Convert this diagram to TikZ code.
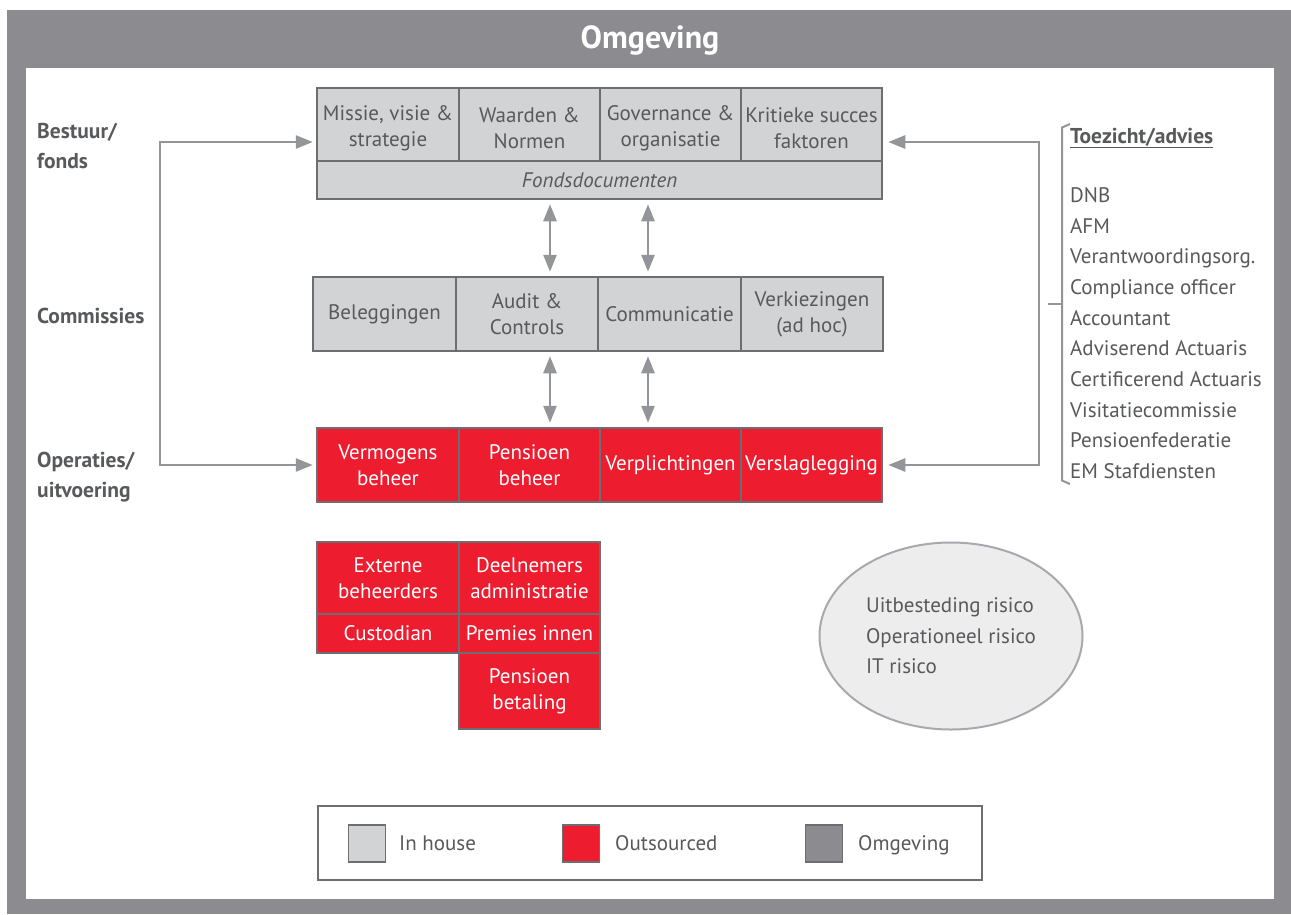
\documentclass[tikz,border=0pt]{standalone}
\usepackage{fontspec}
\setmainfont{PT Sans}
\usetikzlibrary{arrows.meta,shapes.geometric}
\definecolor{framegray}{RGB}{140,139,144}
\definecolor{inhouse}{RGB}{210,211,213}
\definecolor{outred}{RGB}{237,28,46}
\definecolor{edgegray}{RGB}{109,110,113}
\definecolor{txtgray}{RGB}{88,89,91}
\definecolor{conngray}{RGB}{147,149,152}
\definecolor{ellfill}{RGB}{237,237,238}
\definecolor{elledge}{RGB}{167,169,172}
\newcommand\lowertxt{\rule{0pt}{23pt}}
\begin{document}
\begin{tikzpicture}[x=1pt,y=-1pt,
  boxfont/.style={font=\fontsize{21}{26}\selectfont},
  cell/.style={boxfont, draw=edgegray, line width=2.5pt, inner sep=0pt, align=center, text=txtgray, fill=inhouse},
  redcell/.style={cell, fill=outred, text=white},
  lbl/.style={font=\fontsize{21.5}{30}\selectfont\bfseries, text=txtgray, align=left, anchor=west, inner sep=0pt},
  listtxt/.style={font=\fontsize{21}{30.67}\selectfont, text=txtgray, align=left, anchor=west, inner sep=0pt},
  conn/.style={draw=conngray, line width=2.6pt, {Triangle[length=17pt,width=13pt]}-{Triangle[length=17pt,width=13pt]}},
  legsq/.style={draw=edgegray, line width=1.5pt, minimum width=37pt, minimum height=37pt, inner sep=0pt},
  legtxt/.style={font=\fontsize{21}{24}\selectfont, text=txtgray, anchor=base west, inner sep=0pt}]
\useasboundingbox (0,0) rectangle (1291,914);
\fill[white] (0,0) rectangle (1291,914);
% frame
\fill[framegray] (7,10) rectangle (1291,914);
\fill[white] (26,68) rectangle (1274,899);
\node[font=\fontsize{32}{36}\selectfont\bfseries, text=white] (title) at (650,40) {Omgeving};

% Bestuur / fonds
\node[cell, minimum width=142pt, minimum height=73pt] (m1) at (388,124.5) {\lowertxt Missie, visie \&\\strategie};
\node[cell, minimum width=141pt, minimum height=73pt] (m2) at (529.5,124.5) {\lowertxt Waarden \&\\Normen};
\node[cell, minimum width=141pt, minimum height=73pt] (m3) at (670.5,124.5) {\lowertxt Governance \&\\organisatie};
\node[cell, minimum width=141pt, minimum height=73pt] (m4) at (811.5,124.5) {\lowertxt Kritieke succes\\faktoren};
\node[cell, minimum width=565pt, minimum height=38pt, font=\fontsize{21}{26}\selectfont\itshape] (fonds) at (599.5,180) {Fondsdocumenten};

% Commissies
\node[cell, minimum width=143pt, minimum height=74pt] (c1) at (384.5,314) {Beleggingen};
\node[cell, minimum width=142pt, minimum height=74pt] (c2) at (527,314) {Audit \&\\Controls};
\node[cell, minimum width=143pt, minimum height=74pt] (c3) at (669.5,314) {Communicatie};
\node[cell, minimum width=142pt, minimum height=74pt] (c4) at (812,314) {Verkiezingen\\(ad hoc)};

% Operaties
\node[redcell, minimum width=142pt, minimum height=74pt] (o1) at (388,465) {Vermogens\\beheer};
\node[redcell, minimum width=141pt, minimum height=74pt] (o2) at (529.5,465) {Pensioen\\beheer};
\node[redcell, minimum width=141pt, minimum height=74pt] (o3) at (670.5,465) {Verplichtingen};
\node[redcell, minimum width=141pt, minimum height=74pt] (o4) at (811.5,465) {Verslaglegging};

% sub boxes
\node[redcell, minimum width=142pt, minimum height=72pt] (s1) at (388,578) {Externe\\beheerders};
\node[redcell, minimum width=142pt, minimum height=39pt] (s2) at (388,633.5) {Custodian};
\node[redcell, minimum width=141pt, minimum height=72pt] (s3) at (529.5,578) {Deelnemers\\administratie};
\node[redcell, minimum width=141pt, minimum height=39pt] (s4) at (529.5,633.5) {Premies innen};
\node[redcell, minimum width=141pt, minimum height=76pt] (s5) at (529.5,691) {Pensioen\\betaling};

% row labels
\node[lbl] (lb1) at (37,146) {Bestuur/\\fonds};
\node[lbl] (lb2) at (37,316) {Commissies};
\node[lbl] (lb3) at (37,477) {Operaties/\\uitvoering};

% vertical double arrows
\coordinate (va) at (550,0);
\coordinate (vb) at (648,0);
\draw[conn, shorten <=4pt, shorten >=4pt] (va |- fonds.south) -- (va |- c2.north);
\draw[conn, shorten <=4pt, shorten >=4pt] (vb |- fonds.south) -- (vb |- c3.north);
\draw[conn, shorten <=4pt, shorten >=4pt] (va |- c2.south) -- (va |- o2.north);
\draw[conn, shorten <=4pt, shorten >=4pt] (vb |- c3.south) -- (vb |- o3.north);

% left connector
\coordinate (lt) at (160,142);
\coordinate (lbm) at (160,465);
\draw[conn, shorten <=3pt, shorten >=3pt] (lt -| m1.west) -- (lt) -- (lbm) -- (lbm -| o1.west);

% right connector
\coordinate (rt) at (1039,142);
\coordinate (rb) at (1039,465);
\draw[conn, shorten <=5pt, shorten >=5pt] (rt -| m4.east) -- (rt) -- (rb) -- (rb -| o4.east);

% bracket
\draw[conngray, line width=2pt] (1070,124) -- (1062,127.5) -- (1062,480.5) -- (1070,484);
\draw[conngray, line width=2pt] (1048,304) -- (1062,304);

% Toezicht list
\node[font=\fontsize{21.5}{24}\selectfont\bfseries, text=txtgray, anchor=west, inner sep=0pt] (tz) at (1070,138) {\underline{Toezicht/advies}};
\node[listtxt] (list) at (1070,333) {DNB\\AFM\\Verantwoordingsorg.\\Compliance officer\\Accountant\\Adviserend Actuaris\\Certificerend Actuaris\\Visitatiecommissie\\Pensioenfederatie\\EM Stafdiensten};

% ellipse
\node[ellipse, draw=elledge, line width=2pt, fill=ellfill, minimum width=263pt, minimum height=187pt, inner sep=0pt, align=left, text=txtgray, font=\fontsize{21}{30.5}\selectfont] (risk) at (951,636) {Uitbesteding risico\\Operationeel risico\\IT risico};

% legend
\node[draw=edgegray, line width=2.5pt, minimum width=664pt, minimum height=74pt, inner sep=0pt] (legend) at (650,843) {};
\node[legsq, fill=inhouse] (q1) at (367,843.5) {};
\node[legsq, fill=outred] (q2) at (581,843.5) {};
\node[legsq, fill=framegray] (q3) at (824,843.5) {};
\node[legtxt] (t1) at (399,850.5) {In house};
\node[legtxt] (t2) at (615,850.5) {Outsourced};
\node[legtxt] (t3) at (858,850.5) {Omgeving};
\end{tikzpicture}
\end{document}
